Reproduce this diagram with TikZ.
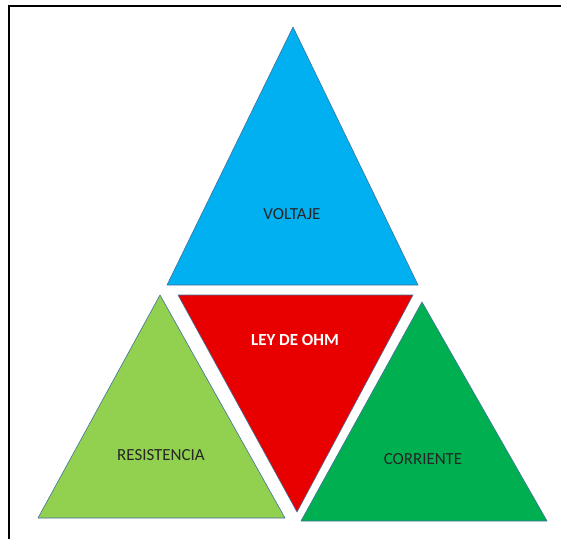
\documentclass[tikz,border=0pt]{standalone}
\usepackage{fontspec}
\setmainfont{Carlito}
\usepackage{xcolor}
\definecolor{voltblue}{HTML}{00B0F0}
\definecolor{ohmred}{HTML}{E80000}
\definecolor{resgreen}{HTML}{92D050}
\definecolor{corgreen}{HTML}{00B050}
\definecolor{edgeblue}{HTML}{41719C}
\tikzset{tri/.style={draw=edgeblue,line width=0.6pt,line join=round},
         lbl/.style={font=\fontsize{17}{19}\selectfont,text=black!85}}

\begin{document}
\begin{tikzpicture}[x=1bp,y=-1bp]
                \useasboundingbox (0,0) rectangle (561,539);
                \begin{scope}
                \clip (0,0) rectangle (561,539);
                \draw[line width=2bp] (9,545) -- (9,6) -- (570,6);
                \end{scope}
                \filldraw[tri,fill=voltblue] (293,27) -- (418,285) -- (167,285) -- cycle;
                \filldraw[tri,fill=ohmred] (178,295) -- (413,295) -- (297,512) -- cycle;
                \filldraw[tri,fill=resgreen] (160,295) -- (285,518) -- (38,518) -- cycle;
                \filldraw[tri,fill=corgreen] (422,302) -- (547,521) -- (301,521) -- cycle;
                \node[lbl] (v) at (292,214) {VOLTAJE};
                \node[lbl,font=\fontsize{17}{19}\selectfont\bfseries,text=white] (o) at (295,340) {LEY DE OHM};
                \node[lbl] (r) at (161,455) {RESISTENCIA};
                \node[lbl] (c) at (423,459) {CORRIENTE};
              \end{tikzpicture}
\end{document}
